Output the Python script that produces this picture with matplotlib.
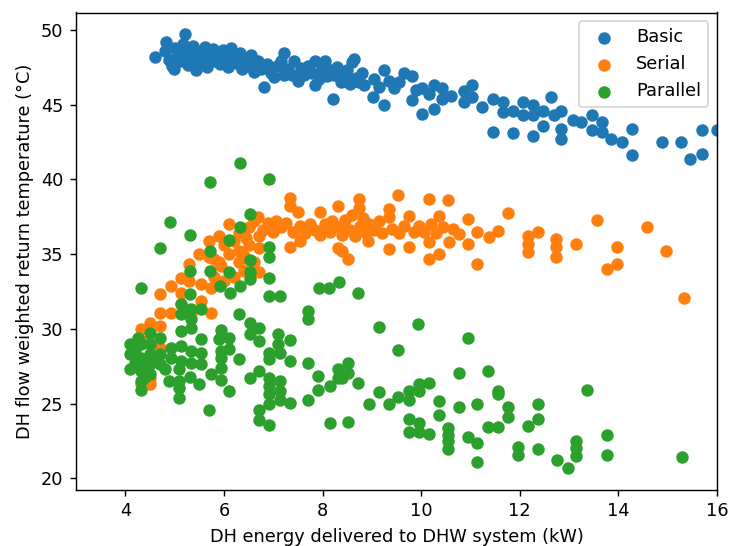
import matplotlib.pyplot as plt

# values
basic_x = [4.61, 4.82, 4.80, 4.88, 4.95, 4.99, 5.00, 5.05, 5.10, 5.12, 5.18, 5.22, 5.25, 5.28, 5.33,
           5.38, 5.43, 5.45, 5.50, 5.55, 5.58, 5.62, 5.66, 5.72, 5.78, 5.82, 5.88, 5.93, 5.98, 6.03,
           6.08, 6.14, 6.20, 6.25, 6.32, 6.36, 6.42, 6.50, 6.55, 6.60,
           6.70, 6.75, 6.81, 6.88, 6.95, 7.02, 7.08, 7.15, 7.22, 7.22, 7.30, 7.38, 7.43, 7.50, 7.56,
           7.63, 7.70, 7.78, 7.84, 7.84, 7.92, 7.98, 8.04, 8.10, 8.15, 8.22, 8.24, 8.30, 8.38, 8.45,
           8.50, 8.55, 8.59, 8.63, 8.68, 8.73, 8.80, 8.85,
           9.03, 9.05, 9.15, 9.24, 9.24, 9.35, 9.45, 9.55, 9.65, 9.82, 9.82, 9.90, 10.02, 10.02, 10.15,
           10.26, 10.26, 10.43, 10.43, 10.60, 10.87, 10.87, 11.04, 11.04, 11.24, 11.45, 11.45, 11.65,
           11.65, 11.86, 11.86, 12.06, 12.06, 12.27, 12.27, 12.27, 12.47, 12.47, 12.64, 12.70, 12.84,
           12.84, 12.84, 13.08, 13.25, 13.46, 13.46, 13.66, 13.66, 13.86, 14.07, 14.27, 14.27, 14.88,
           15.26, 15.46, 15.70, 15.70, 16.00]
basic_y = [48.17, 49.21, 48.60, 48.00, 47.60, 47.36, 48.80, 48.30, 47.90, 48.60, 49.05, 49.75, 48.10, 47.65, 48.45,
           48.90, 47.32, 48.20, 47.80, 48.60, 48.00, 48.85, 47.55, 48.30, 48.70, 47.90, 48.40, 47.70, 48.65, 48.10,
           47.50, 48.80, 48.25, 47.80, 48.45, 47.40, 48.05, 47.60, 48.30, 47.20,
           47.90, 47.40, 46.19, 47.70, 47.15, 46.87, 47.60, 47.95, 48.44, 46.97, 47.40, 47.00, 47.90, 46.60, 47.45,
           46.98, 47.60, 47.10, 47.90, 46.30, 46.70, 47.40, 47.90, 46.90, 47.30, 45.37, 46.98, 47.50, 46.50, 46.98,
           47.30, 46.40, 47.87, 48.03, 46.80, 46.50, 47.10, 46.30,
           45.50, 46.70, 46.20, 47.30, 44.97, 46.60, 46.10, 46.50, 47.10, 46.90, 45.30, 46.00, 46.10, 44.40, 45.70,
           46.30, 44.70, 46.10, 45.40, 45.60, 45.90, 45.20, 46.30, 45.50, 44.85, 45.40, 43.17, 45.20,
           44.50, 44.60, 43.10, 45.20, 44.30, 44.97, 44.30, 42.90, 44.60, 43.60, 45.50, 44.30, 44.60,
           43.40, 42.70, 43.96, 43.85, 44.30, 43.30, 43.85, 43.20, 42.70, 42.50, 43.40, 41.61, 42.50,
           42.50, 41.39, 41.70, 43.30, 43.30]

serial_x = [4.31, 4.51, 4.51, 4.31, 4.31, 4.51, 4.71, 4.71, 4.71, 4.92, 4.71, 4.92, 5.12, 5.12, 5.12,
            5.29, 5.33, 5.53, 5.53, 5.73, 5.73, 5.29, 5.50, 5.70, 5.80, 5.90, 5.94, 5.70, 5.90, 6.11,
            6.31, 6.72, 5.80, 6.00, 6.20, 6.30, 6.40, 6.50, 6.60, 6.72, 6.20, 6.40, 6.00, 6.72,
            6.11, 6.30, 6.45, 6.50, 6.60, 6.70, 6.80, 6.90, 7.00, 7.05, 7.15, 7.25, 7.33, 7.33, 7.33,
            7.40, 7.50, 7.54, 7.55, 7.65, 7.75, 7.85, 7.94, 7.95, 8.05, 8.15, 8.20, 8.32, 8.32, 8.35,
            8.40, 8.39, 8.45, 8.52, 8.55, 8.60, 8.65, 8.73, 8.73, 8.75, 8.82, 8.88, 8.93, 8.95, 9.05,
            9.15, 9.20, 9.34, 9.34, 9.34, 9.40, 9.54, 9.55, 9.65, 9.75, 9.75, 9.85, 9.95, 10.05, 10.16,
            10.16, 10.16, 10.20, 10.30, 10.36, 10.36, 10.45, 10.55, 10.57, 10.65, 10.77, 10.94, 10.94,
            11.14, 11.14, 11.37, 11.55, 11.76, 12.16, 12.16, 12.16, 12.37, 12.74, 12.74, 12.74, 13.15,
            13.56, 13.76, 13.97, 13.97, 14.58, 14.97, 15.33]
serial_y = [26.29, 26.29, 26.74, 29.19, 29.98, 30.42, 30.20, 28.74, 31.09, 31.09, 32.33, 32.89, 31.66, 32.44, 33.44,
            33.22, 31.09, 31.88, 33.00, 32.77, 31.09, 34.34, 35.01, 34.79, 34.68, 34.45, 34.23, 35.91, 36.24, 35.01,
            34.45, 33.78, 33.50, 33.20, 33.50, 35.20, 33.90, 35.60, 34.50, 35.40, 35.90, 34.90, 35.60, 36.20,
            37.03, 36.40, 36.10, 36.80, 37.20, 37.47, 36.60, 37.10, 36.50, 37.20, 36.80, 37.10, 38.75, 38.20, 35.50,
            36.50, 37.80, 35.91, 36.90, 36.40, 37.00, 36.60, 37.85, 36.30, 37.00, 36.50, 37.20, 38.26, 35.40, 36.80,
            36.30, 35.23, 37.30, 34.70, 36.60, 37.60, 36.20, 38.70, 38.10, 36.90, 37.40, 36.40, 35.91, 37.00, 36.60,
            37.20, 36.40, 38.03, 37.47, 35.35, 36.70, 38.93, 36.40, 36.90, 37.58, 35.50, 36.50, 36.90, 36.50, 38.70,
            35.79, 34.68, 37.00, 36.40, 37.58, 35.01, 36.80, 38.64, 35.79, 36.70, 36.36, 37.36, 35.68,
            36.46, 34.38, 36.13, 36.58, 37.74, 36.24, 35.68, 35.12, 36.46, 36.02, 35.46, 34.79, 35.68,
            37.32, 34.01, 35.50, 34.38, 36.80, 35.23, 32.10]

parallel_x = [6.33, 5.71, 6.92, 4.90, 5.31, 4.71, 6.53, 6.33, 6.11, 5.71, 6.92, 6.92, 6.53, 5.31, 5.71,
              6.11, 6.53, 6.53, 6.92, 5.92, 6.12, 6.33, 4.32, 5.31, 6.92, 7.13, 7.92, 8.13, 8.33, 8.71,
              5.12, 5.12, 5.33, 5.33, 5.53, 6.31, 7.71, 7.71, 4.51, 4.71, 5.12, 5.33, 5.53, 6.52, 6.72,
              6.52, 6.72, 5.94, 6.11, 5.90, 7.10, 7.33, 7.10, 4.10, 4.10, 4.10, 4.31, 4.31, 4.31, 4.31,
              4.31, 4.51, 4.51, 4.51, 4.51, 4.71, 4.71, 4.92, 4.92, 5.12, 5.12, 5.33, 5.33, 5.53, 5.53,
              5.09, 5.09, 4.88, 5.09, 5.09, 5.31, 5.50, 5.73, 5.94, 5.94, 5.94, 5.94, 6.11, 6.11, 6.31,
              5.70, 6.53, 6.72, 6.92, 6.92, 7.13, 6.92, 6.92, 6.92, 6.92, 7.13, 7.13, 7.13, 7.33, 6.72,
              6.72, 6.92, 7.33, 7.71, 7.71, 7.91, 7.91, 8.15, 8.32, 8.32, 8.52, 8.52, 8.71, 8.15, 8.52,
              4.20, 4.40, 4.60, 4.20, 4.40, 4.80, 4.25,
              9.15, 9.94, 10.94, 9.54, 8.39, 9.15, 8.94, 9.34, 9.54, 9.75, 9.75, 9.95, 9.95, 10.16,
              10.36, 10.36, 10.76, 10.76, 11.36, 11.14, 11.55, 11.55, 11.76, 11.76, 12.37, 12.37, 12.16,
              9.75, 9.95, 9.75, 9.95, 10.16, 10.54, 10.54, 10.54, 10.54, 10.94, 11.14, 11.14, 11.36,
              11.55, 11.96, 11.96, 12.37, 12.76, 12.98, 13.15, 13.15, 13.15, 13.37, 13.76, 13.76, 15.30]
parallel_y = [41.12, 39.82, 40.00, 37.14, 36.29, 35.42, 37.70, 36.80, 35.97, 35.23, 35.46, 34.79, 34.63, 33.89, 33.85,
              33.78, 33.78, 33.34, 33.38, 32.89, 32.44, 32.89, 32.77, 32.33, 32.21, 32.21, 32.77, 32.77, 33.11, 32.44,
              31.66, 30.99, 31.32, 30.65, 31.32, 30.99, 31.21, 30.65, 29.75, 29.42, 29.87, 30.09, 29.31, 30.42, 30.09,
              29.64, 29.19, 29.91, 29.42, 29.31, 29.64, 29.24, 28.97, 28.97, 28.30, 27.30, 28.97, 28.07, 27.18, 26.51,
              25.95, 28.97, 28.30, 27.63, 26.96, 28.30, 27.63, 28.75, 28.07, 28.86, 27.85, 28.52, 27.74, 28.41, 27.63,
              27.30, 26.51, 26.51, 26.06, 25.39, 26.78, 26.29, 26.96, 27.40, 26.62, 28.07, 28.52, 28.64, 25.84, 27.97,
              24.61, 26.73, 27.18, 28.41, 27.97, 28.41, 26.73, 26.17, 25.62, 24.95, 26.51, 25.84, 25.28, 25.06, 24.61,
              23.94, 23.60, 27.85, 27.74, 25.28, 26.85, 25.95, 26.17, 27.30, 26.73, 27.74, 27.07, 26.40, 23.71, 23.78,
              28.60, 27.80, 28.00, 27.70, 26.80, 27.30, 29.40,
              30.13, 30.32, 29.42, 28.57, 26.73, 25.79, 24.99, 24.99, 25.44, 25.84, 25.28, 26.29, 25.84, 26.40,
              25.21, 24.23, 27.07, 24.77, 27.18, 24.99, 25.84, 25.62, 24.77, 24.09, 24.99, 23.98, 23.54,
              23.98, 23.71, 23.09, 23.09, 23.00, 23.38, 22.93, 22.48, 21.99, 22.75, 22.37, 21.09, 23.44,
              23.44, 22.08, 21.54, 21.97, 21.26, 20.68, 22.53, 22.03, 21.52, 25.89, 22.89, 21.54, 21.43]

dpi = 128
fig = plt.figure(figsize=(729 / dpi, 546 / dpi), dpi=dpi)
ax = fig.add_axes([76 / 729, 56 / 546, 641 / 729, 477.5 / 546])

ax.scatter(basic_x, basic_y, label='Basic')
ax.scatter(serial_x, serial_y, label='Serial')
ax.scatter(parallel_x, parallel_y, label='Parallel')

ax.set_xlim(3, 16)
ax.set_ylim(19.23, 51.17)
ax.set_xlabel('DH energy delivered to DHW system (kW)')
ax.set_ylabel('DH flow weighted return temperature (°C)')
ax.legend(loc='upper right')

fig.savefig('out.png', dpi=dpi)
